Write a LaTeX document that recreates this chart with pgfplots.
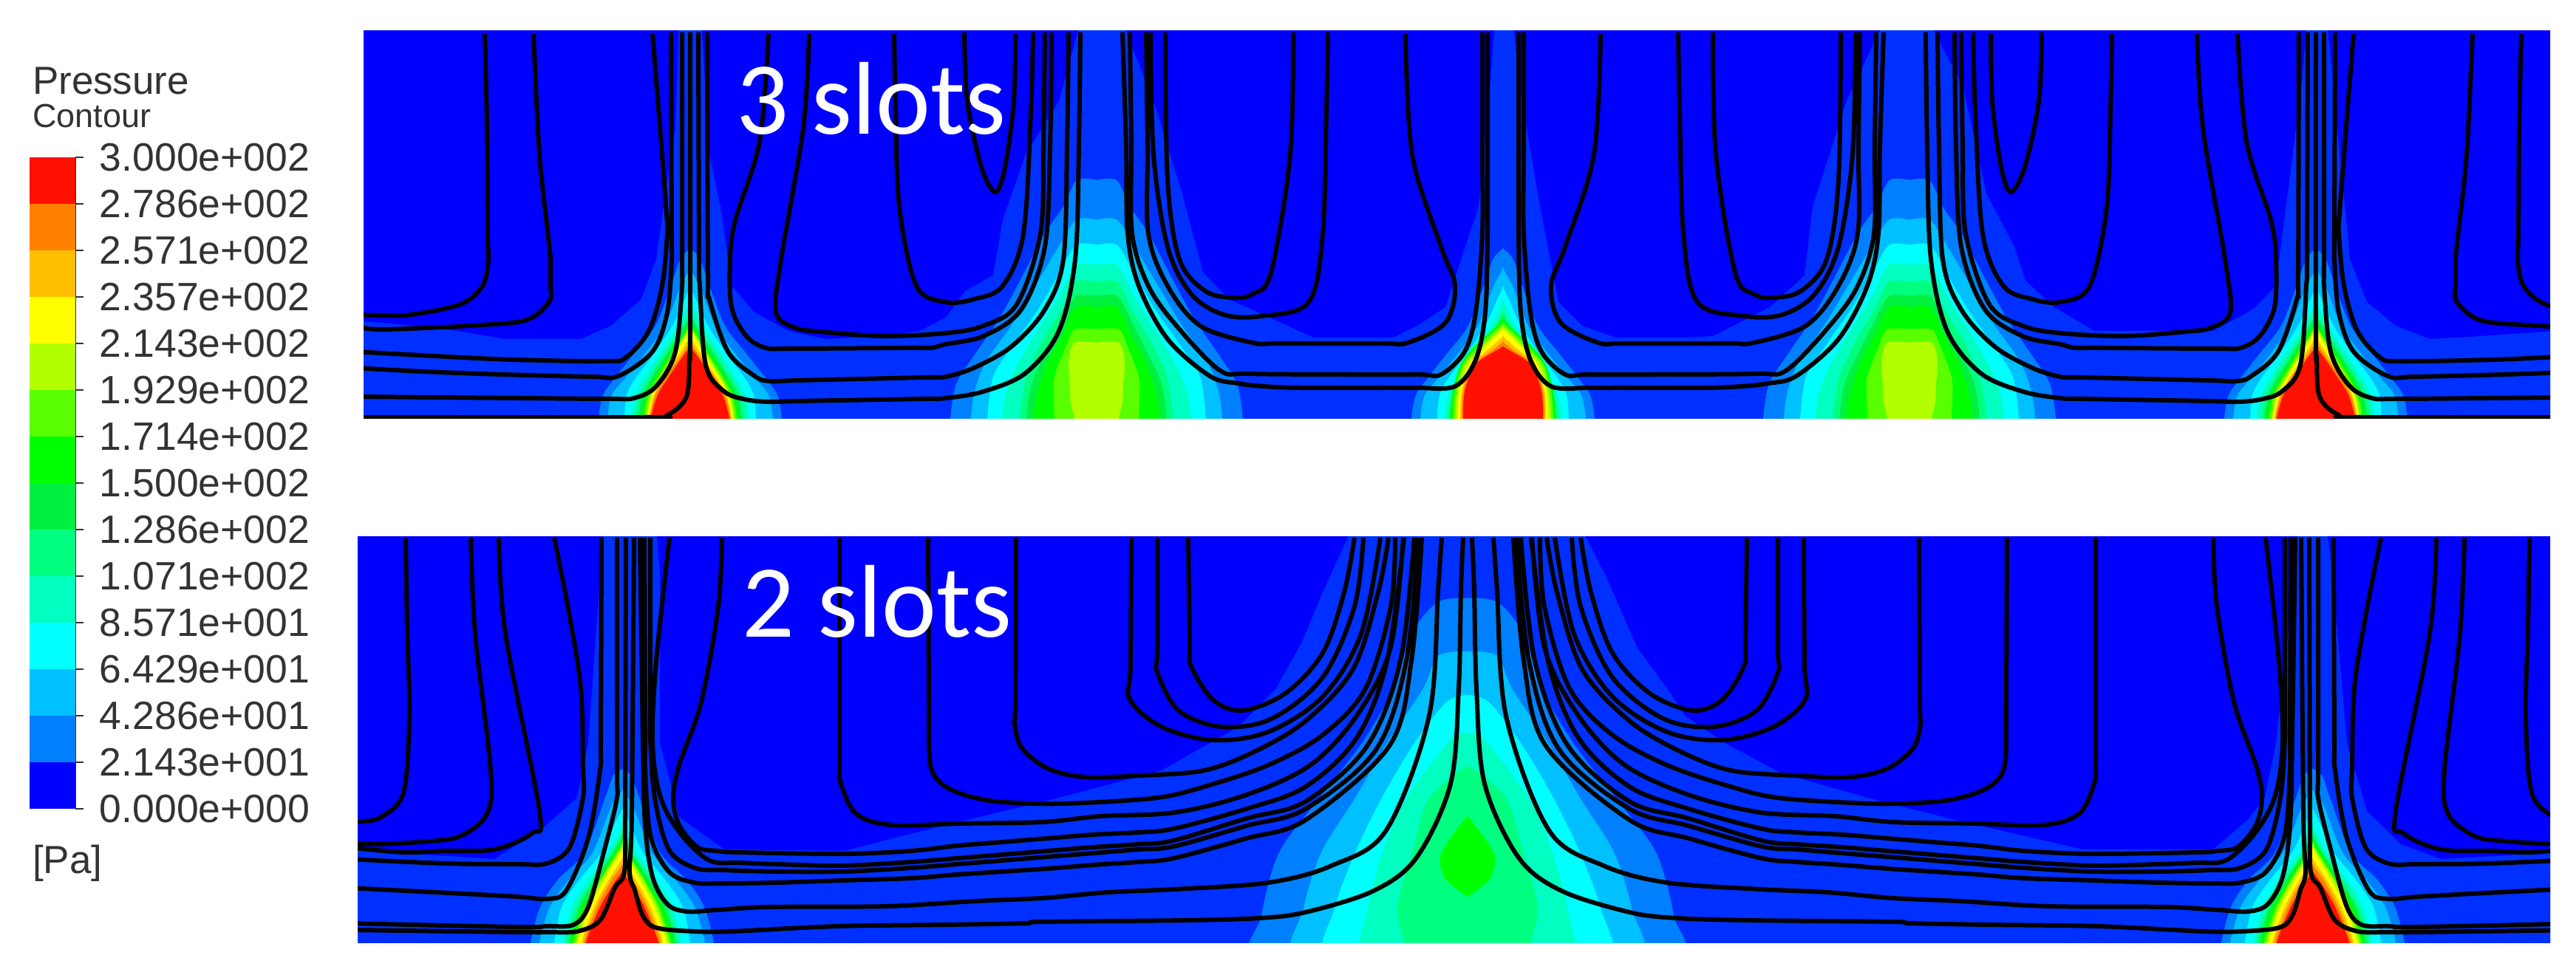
\documentclass[border=0pt]{standalone}
\usepackage{fontspec}
\usepackage{pgfplots}
\usepackage{pgfplotstable}
\pgfplotsset{compat=1.18}
\setmainfont{Liberation Sans}
\newfontfamily\slotfont{Carlito}

% contour band colours
\definecolor{cA}{HTML}{0000FF}
\definecolor{cB}{HTML}{0030FF}
\definecolor{cC}{HTML}{0080FF}
\definecolor{cD}{HTML}{00C0FF}
\definecolor{cE}{HTML}{00FFFF}
\definecolor{cF}{HTML}{00FFC0}
\definecolor{cG}{HTML}{00FF80}
\definecolor{cH}{HTML}{00F040}
\definecolor{cI}{HTML}{00FF00}
\definecolor{cJ}{HTML}{59FF00}
\definecolor{cK}{HTML}{B2FF00}
\definecolor{cL}{HTML}{FFFF00}
\definecolor{cM}{HTML}{FFBF00}
\definecolor{cN}{HTML}{FF8000}
\definecolor{cO}{HTML}{FF1000}
\definecolor{lab}{HTML}{333333}

% one symmetric contour lobe: colour, centre x, half outline (w y)
\newcommand{\lobe}[3]{%
  \addplot[fill=#1,draw=none,smooth,tension=0.5] table[row sep=crcr,x expr=#2+\thisrow{w},y=y]{w y\\#3};
  \addplot[fill=#1,draw=none,smooth,tension=0.5] table[row sep=crcr,x expr=#2-\thisrow{w},y=y]{w y\\#3};
}

% 3 slots, narrow jet
\newcommand{\narrowtop}[1]{%
  \lobe{cC}{#1}{-1 336\\13 350\\26 387\\47 441\\77 480\\102 512\\118 535\\124 567\\124 600\\-1 600\\}
  \lobe{cD}{#1}{-1 362\\14 390\\34 441\\62 480\\88 512\\106 535\\112 567\\112 600\\-1 600\\}
  \lobe{cE}{#1}{-1 387\\10 410\\24 441\\50 480\\74 512\\86 535\\89 567\\89 600\\-1 600\\}
  \lobe{cF}{#1}{-1 405\\16 441\\42 480\\62 512\\74 535\\80 567\\80 600\\-1 600\\}
  \lobe{cG}{#1}{-1 420\\10 441\\36 480\\56 512\\68 535\\74 567\\74 600\\-1 600\\}
  \lobe{cH}{#1}{-1 426\\8 441\\32 480\\52 512\\64 535\\70 567\\70 600\\-1 600\\}
  \lobe{cI}{#1}{-1 432\\14 460\\28 480\\48 512\\60 535\\66 567\\66 600\\-1 600\\}
  \lobe{cJ}{#1}{-1 437\\12 460\\25 480\\45 512\\57 535\\63 567\\63 600\\-1 600\\}
  \lobe{cK}{#1}{-1 441\\23 480\\42 512\\54 535\\60 567\\60 600\\-1 600\\}
  \lobe{cL}{#1}{-1 444\\20 480\\40 512\\52 535\\58 567\\58 600\\-1 600\\}
  \lobe{cM}{#1}{-1 455\\15 480\\36 512\\49 535\\56 567\\56 600\\-1 600\\}
  \lobe{cN}{#1}{-1 462\\11 480\\34 512\\47 535\\55 567\\55 600\\-1 600\\}
  \lobe{cO}{#1}{-1 470\\8 480\\30 512\\44 535\\53 567\\53 600\\-1 600\\}
}

% 3 slots, the middle jet has a fuller core
\newcommand{\corecentre}[1]{%
  \lobe{cI}{#1}{-1 432\\18 450\\40 470\\58 494\\68 530\\72 567\\72 600\\-1 600\\}
  \lobe{cJ}{#1}{-1 437\\16 452\\37 472\\55 494\\65 530\\68 567\\68 600\\-1 600\\}
  \lobe{cK}{#1}{-1 441\\14 455\\34 475\\52 494\\62 530\\65 567\\65 600\\-1 600\\}
  \lobe{cL}{#1}{-1 445\\10 455\\30 475\\47 494\\59 530\\61 567\\61 600\\-1 600\\}
  \lobe{cM}{#1}{-1 455\\22 475\\44 494\\56 530\\58 567\\58 600\\-1 600\\}
  \lobe{cN}{#1}{-1 462\\15 475\\41 494\\54 530\\56 567\\56 600\\-1 600\\}
  \lobe{cO}{#1}{-1 469\\10 475\\38 494\\52 530\\54 567\\54 600\\-1 600\\}
}

% 3 slots, wide flat-topped jet
\newcommand{\widetop}[1]{%
  \lobe{cC}{#1}{-1 244\\27 244\\45 280\\70 316\\100 373\\131 430\\165 480\\190 520\\198 567\\198 600\\-1 600\\}
  \lobe{cD}{#1}{-1 298\\28 298\\55 340\\85 390\\115 440\\150 490\\165 530\\170 567\\170 600\\-1 600\\}
  \lobe{cE}{#1}{-1 332\\28 332\\52 373\\80 420\\115 470\\140 510\\148 567\\148 600\\-1 600\\}
  \lobe{cF}{#1}{-1 359\\28 359\\50 400\\75 440\\105 490\\122 530\\128 567\\128 600\\-1 600\\}
  \lobe{cG}{#1}{-1 382\\28 382\\48 420\\72 460\\95 510\\104 567\\104 600\\-1 600\\}
  \lobe{cH}{#1}{-1 401\\28 401\\50 440\\70 480\\88 520\\95 567\\95 600\\-1 600\\}
  \lobe{cI}{#1}{-1 416\\28 416\\45 450\\66 490\\80 530\\86 567\\86 600\\-1 600\\}
  \lobe{cJ}{#1}{-1 446\\30 446\\42 470\\57 510\\58 540\\57 567\\57 600\\-1 600\\}
  \lobe{cK}{#1}{-1 464\\30 464\\38 490\\36 520\\35 545\\30 567\\30 600\\-1 600\\}
}

% 2 slots, narrow jet
\newcommand{\narrowbot}[1]{%
  \lobe{cC}{#1}{-1 1041\\12 1050\\23 1080\\51 1154\\87 1191\\111 1228\\124 1276\\124 1300\\-1 1300\\}
  \lobe{cD}{#1}{-1 1070\\14 1090\\40 1154\\72 1191\\98 1228\\112 1276\\112 1300\\-1 1300\\}
  \lobe{cE}{#1}{-1 1095\\10 1115\\28 1154\\58 1191\\82 1228\\92 1276\\92 1300\\-1 1300\\}
  \lobe{cF}{#1}{-1 1115\\18 1154\\46 1191\\68 1228\\80 1276\\80 1300\\-1 1300\\}
  \lobe{cG}{#1}{-1 1125\\14 1154\\40 1191\\62 1228\\76 1276\\76 1300\\-1 1300\\}
  \lobe{cH}{#1}{-1 1130\\12 1154\\36 1191\\58 1228\\72 1276\\72 1300\\-1 1300\\}
  \lobe{cI}{#1}{-1 1135\\10 1154\\32 1191\\54 1228\\70 1276\\70 1300\\-1 1300\\}
  \lobe{cJ}{#1}{-1 1140\\7 1154\\30 1191\\50 1228\\66 1276\\66 1300\\-1 1300\\}
  \lobe{cK}{#1}{-1 1143\\5 1154\\28 1191\\47 1228\\63 1276\\63 1300\\-1 1300\\}
  \lobe{cL}{#1}{-1 1148\\24 1191\\44 1228\\60 1276\\60 1300\\-1 1300\\}
  \lobe{cM}{#1}{-1 1162\\18 1191\\38 1228\\55 1276\\55 1300\\-1 1300\\}
  \lobe{cN}{#1}{-1 1170\\14 1191\\34 1228\\52 1276\\52 1300\\-1 1300\\}
  \lobe{cO}{#1}{-1 1180\\8 1191\\30 1228\\49 1276\\49 1300\\-1 1300\\}
}

% streamlines, left half of each panel (right half is the mirror image)
\pgfplotstableread{
x y
656 46
659 173
660 320
661 351
653 387
623 412
557 426
520 427
480 426
nan nan
722 46
730 209
743 330
745 351
745 385
743 409
710 434
633 441
600 443
511 446
480 441
nan nan
883 46
896 209
902 290
903 316
896 387
878 448
847 484
820 489
694 487
587 482
480 476
nan nan
908 44
909 320
909 351
903 423
883 476
837 509
800 510
679 507
572 503
480 498
nan nan
923 44
923 350
923 387
914 476
888 523
858 539
825 540
699 539
480 537
nan nan
934 44
934 450
933 484
929 537
903 562
870 565
480 565
nan nan
945 44
946 350
947 387
955 494
980 530
1010 541
1041 544
1080 543
1250 540
1280 539
1331 530
1388 505
1433 448
1455 351
1460 200
1462 44
nan nan
957 44
958 370
960 405
985 476
1021 509
1041 516
1080 515
1250 511
1280 510
1318 498
1369 469
1414 419
1439 351
1444 200
1446 44
nan nan
1040 46
1028 191
995 298
988 351
990 416
1010 455
1036 471
1070 472
1230 471
1260 471
1280 466
1331 455
1382 419
1414 334
1421 200
1423 44
nan nan
1095 46
1087 173
1057 351
1050 423
1077 444
1110 449
1194 455
1280 451
1331 441
1376 412
1408 316
1412 200
1414 44
nan nan
1210 46
1212 150
1217 280
1240 387
1280 409
1318 405
1357 387
1385 316
1395 150
1398 44
nan nan
1305 44
1309 137
1328 226
1347 260
1360 226
1372 137
1374 46
nan nan
1519 44
1524 200
1526 316
1541 387
1580 459
1637 509
1675 519
1710 523
1758 525
1880 525
1918 525
1969 523
1997 487
2010 423
2013 316
2013 200
2013 44
nan nan
1529 44
1531 200
1532 316
1554 387
1592 441
1650 501
1690 506
1822 507
1920 507
1950 507
1982 476
1997 423
2006 316
2006 200
2006 44
nan nan
1551 44
1553 200
1554 316
1580 387
1624 441
1695 464
1730 465
1870 465
1905 464
1956 437
1969 387
1950 334
1911 209
1902 46
nan nan
1557 44
1561 209
1580 334
1612 398
1656 426
1707 428
1771 409
1790 316
1795 150
1797 44
nan nan
1577 44
1580 244
1596 351
1631 394
1669 403
1695 398
1720 369
1746 209
1750 44
}\toplines

\pgfplotstableread{
x y
549 728
551 850
554 969
546 1073
516 1106
490 1112
470 1112
nan nan
637 728
643 858
664 1043
659 1102
623 1132
580 1139
511 1143
470 1141
nan nan
675 728
684 858
730 1098
720 1128
669 1150
600 1152
546 1154
470 1147
nan nan
750 728
770 830
786 932
789 1040
789 1080
771 1147
740 1169
700 1170
602 1169
470 1163
nan nan
814 728
813 1000
812 1043
796 1135
766 1206
740 1217
700 1214
608 1209
470 1202
nan nan
835 728
835 1040
835 1080
817 1154
796 1228
776 1252
740 1254
699 1255
470 1250
nan nan
847 728
846 1100
845 1180
832 1202
812 1246
781 1261
740 1262
699 1262
470 1259
nan nan
858 728
855 1100
852 1180
859 1205
870 1240
888 1256
939 1261
990 1261
1133 1254
1280 1252
1387 1250
1410 1248
1604 1246
1704 1243
1767 1235
1859 1206
1917 1161
1963 1061
1974 932
1977 800
1980 728
nan nan
866 728
870 1000
873 1117
883 1187
903 1224
929 1234
970 1232
1041 1228
1200 1227
1320 1220
1410 1216
1500 1208
1589 1204
1716 1195
1802 1172
1876 1124
1934 969
1946 800
1951 728
nan nan
977 728
972 821
949 950
919 1036
911 1080
919 1117
944 1147
970 1152
1000 1154
1143 1156
1233 1152
1295 1145
1357 1140
1418 1135
1480 1130
1540 1127
1588 1122
1687 1095
1767 1065
1836 999
1877 895
1900 728
nan nan
906 728
888 896
883 1006
894 1080
922 1130
960 1165
1000 1168
1050 1170
1140 1172
1233 1167
1295 1162
1357 1157
1418 1152
1480 1147
1540 1143
1588 1138
1687 1108
1767 1085
1850 1010
1895 895
1914 728
nan nan
880 728
880 960
880 1000
886 1080
905 1150
940 1175
980 1178
1050 1180
1140 1180
1233 1175
1295 1170
1357 1165
1418 1160
1480 1155
1540 1150
1588 1146
1687 1118
1767 1095
1862 1015
1903 895
1920 728
nan nan
872 728
873 1000
873 1040
880 1130
905 1180
940 1195
980 1196
1050 1195
1140 1192
1233 1189
1295 1184
1357 1180
1418 1176
1480 1171
1540 1167
1588 1162
1687 1135
1767 1110
1880 1010
1910 895
1924 728
nan nan
1136 728
1136 890
1136 1030
1138 1061
1159 1102
1207 1117
1300 1115
1410 1113
1490 1105
1590 1100
1687 1076
1773 1036
1836 969
1882 876
1899 728
nan nan
1256 728
1257 950
1257 980
1260 1040
1283 1067
1333 1083
1400 1088
1467 1087
1567 1080
1630 1065
1716 1036
1790 995
1848 932
1882 821
1888 728
nan nan
1375 728
1374 950
1373 980
1383 1013
1417 1040
1467 1052
1544 1050
1630 1043
1699 1017
1767 976
1831 906
1865 802
1879 728
nan nan
1531 728
1530 900
1529 947
1572 984
1641 1002
1716 991
1790 943
1842 858
1868 728
nan nan
1566 728
1566 880
1566 910
1595 962
1653 984
1721 973
1790 917
1833 821
1845 728
nan nan
1608 728
1610 870
1612 902
1641 947
1681 962
1739 939
1790 884
1819 802
1833 728
}\botlines

\pgfplotsset{
  panel/.style={hide axis,x=0.1pt,y=0.1pt,y dir=reverse,clip=true,anchor=south west},
  stream/.style={black,line width=0.6pt,line join=round,unbounded coords=jump,smooth,tension=0.55},
}

\begin{document}
\begin{tikzpicture}
\useasboundingbox (0,0) rectangle (348.6pt,131.5pt);

% 3 slots
\begin{axis}[panel,at={(49.2pt,74.8pt)},xmin=492,xmax=3451,ymin=42,ymax=567]
  \addplot[fill=cA,draw=none] coordinates {(480,30) (3460,30) (3460,600) (480,600)};
  \addplot[fill=cB,draw=none] coordinates {
    (480,434) (592,444) (684,459) (786,459) (827,441) (868,405) (888,351) (903,244) (914,173) (919,30)
    (949,30) (960,209) (975,280) (990,387) (1021,423) (1067,448) (1118,459) (1194,455) (1245,448) (1280,430)
    (1306,394) (1344,373) (1357,298) (1388,209) (1433,137) (1462,30)
    (1519,30) (1561,137) (1599,259) (1628,369) (1663,405) (1777,457) (1886,457) (1918,441) (1956,416) (2001,280) (2017,109) (2023,30)
    (2048,30) (2055,109) (2084,280) (2109,409) (2141,441) (2186,457) (2280,457) (2318,455) (2395,416) (2442,373) (2453,280) (2499,137) (2549,30)
    (2611,30) (2657,119) (2688,262) (2726,334) (2741,380) (2780,416) (2834,448) (2995,448) (3049,419) (3080,387) (3115,112) (3122,30)
    (3149,30) (3157,112) (3180,351) (3203,409) (3242,441) (3288,459) (3357,455) (3460,448)
    (3460,600) (480,600)};
  \widetop{1484}
  \widetop{2584}
  \narrowtop{934}
  \narrowtop{2034}
  \corecentre{2034}
  \narrowtop{3134}
  \addplot[stream] table[x=x,y=y] {\toplines};
  \addplot[stream] table[x expr=4068-\thisrow{x},y=y] {\toplines};
  \node[anchor=base west,text=white,font=\slotfont\fontsize{14pt}{14pt}\selectfont,inner sep=0pt] at (axis cs:994,182) {3 slots};
\end{axis}

% 2 slots
\begin{axis}[panel,at={(48.4pt,3.9pt)},xmin=484,xmax=3451,ymin=727,ymax=1276]
  \addplot[fill=cA,draw=none] coordinates {(470,715) (3460,715) (3460,1300) (470,1300)};
  \addplot[fill=cB,draw=none] coordinates {
    (470,1150) (669,1163) (735,1121) (781,1080) (796,1006) (812,780) (817,715)
    (888,715) (893,780) (893,1006) (919,1106) (949,1128) (980,1150) (1143,1152) (1220,1132) (1280,1117)
    (1434,1080) (1572,1043) (1676,984) (1727,932) (1762,869) (1790,802) (1830,715)
    (2140,715) (2175,784) (2215,876) (2261,939) (2280,969) (2334,1006) (2411,1047) (2534,1082) (2649,1111) (2818,1150) (2995,1150) (3042,1110)
    (3065,1080) (3080,1006) (3107,765) (3110,715) (3149,715) (3157,784) (3176,1006) (3203,1098) (3249,1143) (3303,1163) (3395,1158) (3460,1147)
    (3460,1300) (470,1300)};
  \lobe{cC}{1986}{-1 810\\40 815\\76 858\\100 932\\143 1006\\200 1080\\255 1154\\279 1240\\279 1300\\-1 1300\\}
  \lobe{cD}{1986}{-1 882\\40 888\\60 932\\109 1006\\152 1080\\198 1154\\222 1230\\227 1300\\-1 1300\\}
  \lobe{cE}{1986}{-1 941\\28 950\\72 1006\\116 1080\\152 1154\\180 1230\\187 1300\\-1 1300\\}
  \lobe{cF}{1986}{-1 995\\20 998\\82 1080\\115 1154\\135 1230\\138 1300\\-1 1300\\}
  \lobe{cG}{1986}{-1 1036\\52 1080\\75 1154\\95 1228\\86 1276\\86 1300\\-1 1300\\}
  \lobe{cI}{1986}{-1 1104\\20 1130\\37 1160\\30 1190\\-1 1215\\}
  \narrowbot{842}
  \narrowbot{3130}
  \addplot[stream] table[x=x,y=y] {\botlines};
  \addplot[stream] table[x expr=3972-\thisrow{x},y=y] {\botlines};
  \node[anchor=base west,text=white,font=\slotfont\fontsize{14pt}{14pt}\selectfont,inner sep=0pt] at (axis cs:1002,863) {2 slots};
\end{axis}

% colour bar
\begin{axis}[
    at={(4pt,22pt)},anchor=south west,
    x=6.2pt,y=6.3pt,
    xmin=0,xmax=1,ymin=0,ymax=14,
    axis x line=none,axis y line=right,
    axis line style={-,draw=lab,line width=0.2pt},
    xtick=\empty,
    ytick={0,...,14},
    yticklabels={0.000e+000,2.143e+001,4.286e+001,6.429e+001,8.571e+001,1.071e+002,1.286e+002,1.500e+002,1.714e+002,1.929e+002,2.143e+002,2.357e+002,2.571e+002,2.786e+002,3.000e+002},
    tick align=outside,
    major tick length=1.1pt,
    tick style={lab,line width=0.2pt},
    yticklabel style={anchor=west,inner sep=0pt,xshift=2pt,text=lab,font=\fontsize{5.35pt}{5.35pt}\selectfont},
    clip=false]
  \addplot[fill=cA,draw=none] coordinates {(0,0) (1,0) (1,1) (0,1)};
  \addplot[fill=cC,draw=none] coordinates {(0,1) (1,1) (1,2) (0,2)};
  \addplot[fill=cD,draw=none] coordinates {(0,2) (1,2) (1,3) (0,3)};
  \addplot[fill=cE,draw=none] coordinates {(0,3) (1,3) (1,4) (0,4)};
  \addplot[fill=cF,draw=none] coordinates {(0,4) (1,4) (1,5) (0,5)};
  \addplot[fill=cG,draw=none] coordinates {(0,5) (1,5) (1,6) (0,6)};
  \addplot[fill=cH,draw=none] coordinates {(0,6) (1,6) (1,7) (0,7)};
  \addplot[fill=cI,draw=none] coordinates {(0,7) (1,7) (1,8) (0,8)};
  \addplot[fill=cJ,draw=none] coordinates {(0,8) (1,8) (1,9) (0,9)};
  \addplot[fill=cK,draw=none] coordinates {(0,9) (1,9) (1,10) (0,10)};
  \addplot[fill=cL,draw=none] coordinates {(0,10) (1,10) (1,11) (0,11)};
  \addplot[fill=cM,draw=none] coordinates {(0,11) (1,11) (1,12) (0,12)};
  \addplot[fill=cN,draw=none] coordinates {(0,12) (1,12) (1,13) (0,13)};
  \addplot[fill=cO,draw=none] coordinates {(0,13) (1,13) (1,14) (0,14)};
\end{axis}

\node[anchor=base west,inner sep=0pt,text=lab,font=\fontsize{5.3pt}{5.3pt}\selectfont] at (4.2pt,118.7pt) {Pressure};
\node[anchor=base west,inner sep=0pt,text=lab,font=\fontsize{4.5pt}{4.5pt}\selectfont] at (4.2pt,114.2pt) {Contour};
\node[anchor=base west,inner sep=0pt,text=lab,font=\fontsize{5.3pt}{5.3pt}\selectfont] at (4.2pt,13.3pt) {[Pa]};
\end{tikzpicture}
\end{document}
